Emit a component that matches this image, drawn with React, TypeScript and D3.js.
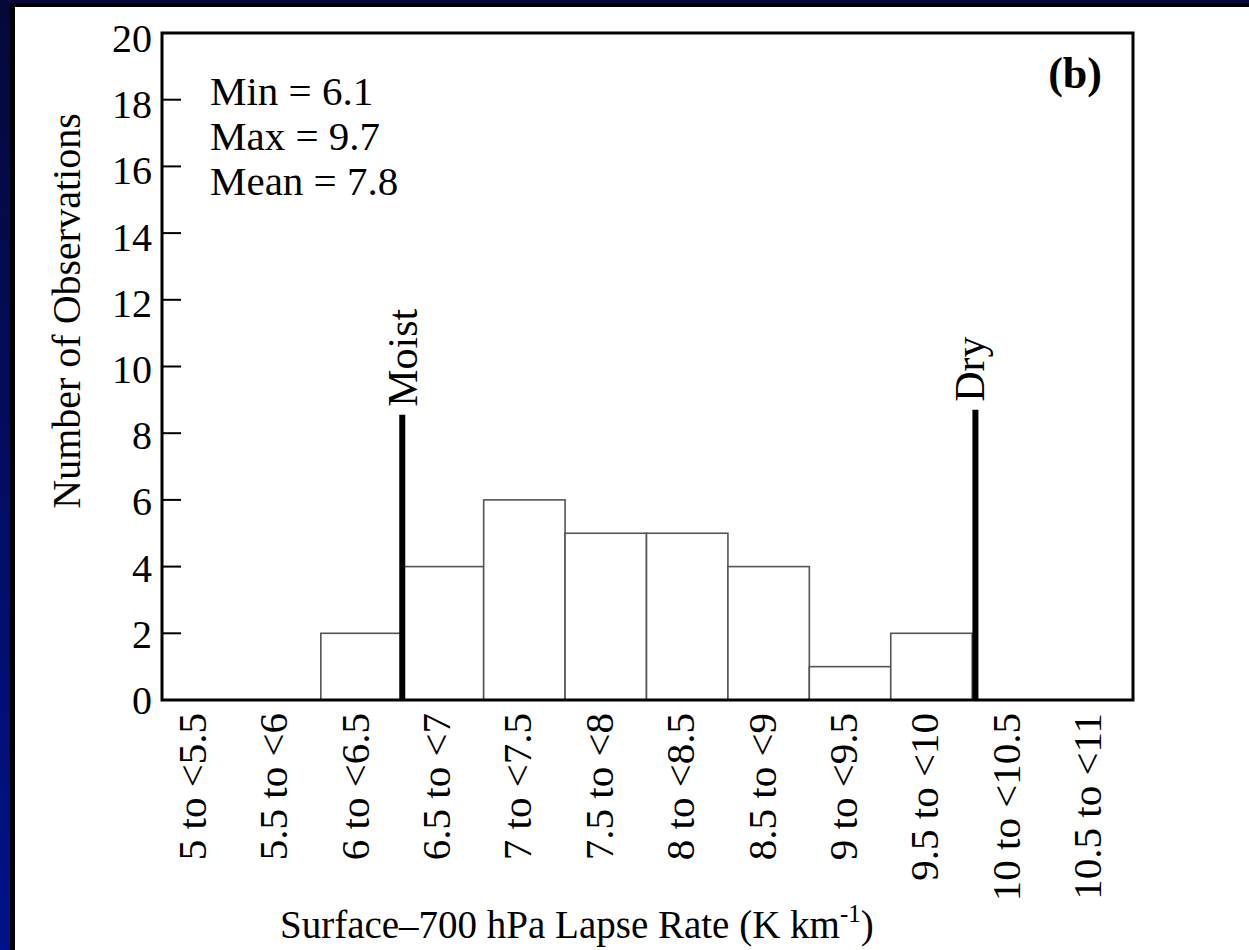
import React, { useRef, useEffect } from 'react';
import * as d3 from 'd3';

// histogram bins (lapse rate, K/km) and counts
const binStarts = [5, 5.5, 6, 6.5, 7, 7.5, 8, 8.5, 9, 9.5, 10, 10.5];
const binLabels = [
  '5 to <5.5', '5.5 to <6', '6 to <6.5', '6.5 to <7', '7 to <7.5', '7.5 to <8',
  '8 to <8.5', '8.5 to <9', '9 to <9.5', '9.5 to <10', '10 to <10.5', '10.5 to <11',
];
const counts = [0, 0, 2, 4, 6, 5, 5, 4, 1, 2, 0, 0];
const yTicks = [0, 2, 4, 6, 8, 10, 12, 14, 16, 18, 20];
const stats = ['Min = 6.1', 'Max = 9.7', 'Mean = 7.8'];
// reference adiabats: [label, lapse rate, line height, label offset]
const adiabats: [string, number, number, number][] = [
  ['Moist', 6.5, 8.55, 15],
  ['Dry', 10.02, 8.7, 9],
];

const FONT = '"Liberation Serif", "Times New Roman", serif';

const LapseHistogram = ({ width = 1249, height = 950 }) => {
  const svgRef = useRef<SVGSVGElement>(null);

  useEffect(() => {
    const svg = d3.select(svgRef.current);
    svg.selectAll('*').remove();
    svg.attr('width', width).attr('height', height);

    // page background: navy with a black rule, then white panel
    const defs = svg.append('defs');
    const grad = defs.append('linearGradient')
      .attr('id', 'navy').attr('x1', 0).attr('y1', 0).attr('x2', 0).attr('y2', 1);
    grad.append('stop').attr('offset', '0%').attr('stop-color', '#050838');
    grad.append('stop').attr('offset', '100%').attr('stop-color', '#00128a');
    svg.append('rect').attr('width', width).attr('height', height).attr('fill', 'url(#navy)');
    svg.append('rect').attr('x', 10).attr('y', 3).attr('width', width).attr('height', height).attr('fill', '#000');
    svg.append('rect').attr('x', 15).attr('y', 7).attr('width', width).attr('height', height).attr('fill', '#fff');

    const frame = { left: 162, right: 1133, top: 33, bottom: 700 };

    const x = d3.scaleLinear().domain([5, 11]).range([158, 1135]);
    const y = d3.scaleLinear().domain([0, 20]).range([frame.bottom, frame.top]);
    const bw = x(5.5) - x(5);

    // bars
    svg.append('g')
      .selectAll('rect')
      .data(counts.map((c, i) => ({ c, s: binStarts[i] })).filter((d) => d.c > 0))
      .join('rect')
      .attr('x', (d) => x(d.s))
      .attr('y', (d) => y(d.c))
      .attr('width', bw)
      .attr('height', (d) => y(0) - y(d.c))
      .attr('fill', '#fff')
      .attr('stroke', '#555')
      .attr('stroke-width', 1.6);

    // frame
    svg.append('rect')
      .attr('x', frame.left).attr('y', frame.top)
      .attr('width', frame.right - frame.left).attr('height', frame.bottom - frame.top)
      .attr('fill', 'none').attr('stroke', '#000').attr('stroke-width', 3);

    // y ticks (inward) and labels
    const yg = svg.append('g');
    yg.selectAll('line')
      .data(yTicks)
      .join('line')
      .attr('x1', frame.left).attr('x2', frame.left + 19)
      .attr('y1', (d) => y(d)).attr('y2', (d) => y(d))
      .attr('stroke', '#000').attr('stroke-width', 2);
    yg.selectAll('text')
      .data(yTicks)
      .join('text')
      .attr('x', 152)
      .attr('y', (d) => y(d) + 14 + 5 * (d / 20))
      .attr('text-anchor', 'end')
      .style('font-family', FONT).style('font-size', '40px')
      .text((d) => d);

    // x category labels, rotated
    svg.append('g')
      .selectAll('text')
      .data(binLabels)
      .join('text')
      .attr('transform', (d, i) => `translate(${x(binStarts[i]) + bw / 2 + 7}, 713) rotate(-90)`)
      .attr('text-anchor', 'end')
      .style('font-family', FONT).style('font-size', '41px')
      .text((d) => d);

    // adiabat markers
    adiabats.forEach(([name, v, h, off]) => {
      svg.append('line')
        .attr('x1', x(v)).attr('x2', x(v))
        .attr('y1', y(0)).attr('y2', y(h))
        .attr('stroke', '#000').attr('stroke-width', 6);
      svg.append('text')
        .attr('transform', `translate(${x(v) + off}, ${y(h) - 8}) rotate(-90)`)
        .style('font-family', FONT).style('font-size', '42px')
        .text(name);
    });

    // stats text
    svg.append('g')
      .selectAll('text')
      .data(stats)
      .join('text')
      .attr('x', 210)
      .attr('y', (d, i) => 105 + i * 45)
      .style('font-family', FONT).style('font-size', '41px')
      .text((d) => d);

    svg.append('text')
      .attr('x', 1102).attr('y', 88)
      .attr('text-anchor', 'end')
      .style('font-family', FONT).style('font-size', '44px').style('font-weight', 'bold')
      .text('(b)');

    // axis titles
    svg.append('text')
      .attr('transform', 'translate(80, 311) rotate(-90)')
      .attr('text-anchor', 'middle')
      .style('font-family', FONT).style('font-size', '40px')
      .text('Number of Observations');

    const xt = svg.append('text')
      .attr('x', 280).attr('y', 938)
      .style('font-family', FONT).style('font-size', '39px');
    xt.append('tspan').text('Surface\u2013700 hPa Lapse Rate (K km');
    xt.append('tspan').attr('dy', -16).style('font-size', '25px').text('-1');
    xt.append('tspan').attr('dy', 16).text(')');
  }, [width, height]);

  return (
    <div style={{ position: 'absolute', left: 0, top: 0 }}>
      <svg ref={svgRef} style={{ display: 'block' }}></svg>
    </div>
  );
};

export default function App() {
  return <LapseHistogram />;
}
